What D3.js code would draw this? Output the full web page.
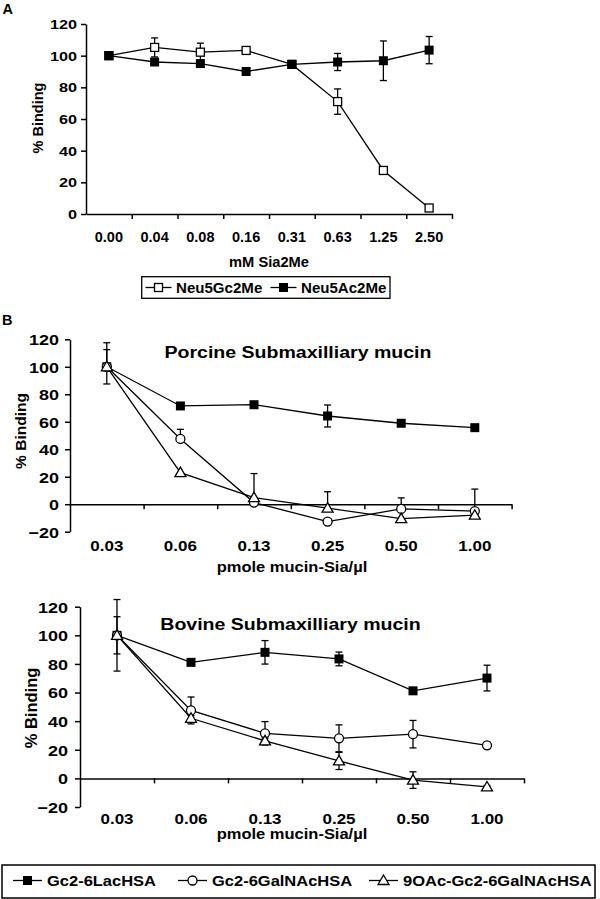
<!DOCTYPE html>
<html><head><meta charset="utf-8">
<script src="https://cdn.jsdelivr.net/npm/d3@7"></script>
<style>
body{margin:0;background:#fff;}
text{font-family:"Liberation Sans",Arial,sans-serif;font-weight:bold;fill:#000;}
</style></head>
<body><svg id="c" width="600" height="899"></svg>
<script>
// ---------- Data ----------
const catsA = ["0.00","0.04","0.08","0.16","0.31","0.63","1.25","2.50"];
const yTicksA = [0,20,40,60,80,100,120];
const neu5Gc = [100,105.2,102.2,103.3,94.5,71,27.5,3.8];
const neu5GcErr = [0,6,5.7,0,0,8,0,2];
const neu5Ac = [100,96,95,90,94.5,96,96.8,103.5];
const neu5AcErr = [0,1.5,2,0,0,5.4,12.5,8.6];

const catsB = ["0.03","0.06","0.13","0.25","0.50","1.00"];
const yTicksB = [-20,0,20,40,60,80,100,120];
// Porcine
const pLac = [100,71.5,72.4,64.2,58.9,55.7];
const pLacUp = [12.5,0,0,8,0,0];
const pLacDn = [12.5,0,0,8,0,0];
const pGal = [100,47.5,1.2,-12.6,-3.4,-5];
const pGalUp = [17.5,7,0,0,8,16];
const pGalDn = [0,0,0,0,0,0];
const pOac = [100,23,4.8,-2.9,-10.5,-8];
const pOacUp = [0,0,17.5,12,0,0];
const pOacDn = [0,0,0,0,0,0];
// Bovine
const bLac = [100,81.1,88.1,83.5,61.2,70.1];
const bLacUp = [13,0,8.2,4.8,0,9];
const bLacDn = [13,0,8.2,4.8,0,9];
const bGal = [100,47.5,31.5,28,30.9,23.1];
const bGalUp = [25,9.4,8.2,9.4,9.6,2];
const bGalDn = [25,9.4,8.2,9.4,9.6,2];
const bOac = [100,42,26.2,12.2,-1.2,-6];
const bOacUp = [0,2,2,6,5.8,1];
const bOacDn = [0,2,2,6,5.8,1];

const legendA = ["Neu5Gc2Me","Neu5Ac2Me"];
const legendB = ["Gc2-6LacHSA","Gc2-6GalNAcHSA","9OAc-Gc2-6GalNAcHSA"];

// ---------- Helpers ----------
const svg = d3.select("#c");
svg.append("rect").attr("width",600).attr("height",899).attr("fill","#fff");

function label(g,x,y,s,size,sx,anchor="middle",rot=0){
  return g.append("text")
    .attr("transform",`translate(${x},${y}) rotate(${rot}) scale(${sx},1)`)
    .attr("text-anchor",anchor).style("font-size",size+"px").text(s);
}

function marker(g,type,x,y){
  if(type==="sqFill"){
    g.append("rect").attr("x",x-4.5).attr("y",y-4.5).attr("width",9).attr("height",9).attr("fill","#000");
  } else if(type==="sqOpen"){
    g.append("rect").attr("x",x-4).attr("y",y-4).attr("width",8).attr("height",8).attr("fill","#fff").attr("stroke","#000").attr("stroke-width",1.3);
  } else if(type==="circ"){
    g.append("circle").attr("cx",x).attr("cy",y).attr("r",4.5).attr("fill","#fff").attr("stroke","#000").attr("stroke-width",1.3);
  } else if(type==="tri"){
    g.append("path").attr("d",`M${x},${y-5.5}L${x+5.5},${y+4}L${x-5.5},${y+4}Z`).attr("fill","#fff").attr("stroke","#000").attr("stroke-width",1.3);
  }
}

function panel(o){
  const g = svg.append("g");
  const x = d3.scaleBand().domain(o.cats).range([o.x0,o.x1]).paddingInner(0).paddingOuter(0);
  const xi = d3.scaleLinear().domain([0,o.cats.length]).range([o.x0,o.x1]);
  const y = d3.scaleLinear().domain(o.yDom).range([o.yBot,o.yTop]);
  const cx = c => x(c)+x.bandwidth()/2;

  // y axis
  const ya = g.append("g").attr("transform",`translate(${o.x0},0)`)
    .call(d3.axisLeft(y).tickValues(o.yTicks).tickSize(5).tickSizeOuter(0).tickFormat(d3.format("d")));
  ya.selectAll("path,line").attr("stroke","#000").attr("stroke-width",1.5);
  ya.selectAll("text").attr("x",null).attr("dy","0.36em")
    .attr("transform",`translate(${-o.yPad},0) scale(${o.ySx},1)`)
    .attr("text-anchor","end").attr("font-family",null).attr("font-size",null)
    .style("font-size",o.yFs+"px");
  // x axis line + boundary ticks
  const xa = g.append("g").attr("transform",`translate(0,${y(o.xAt)})`)
    .call(d3.axisBottom(xi).tickValues(d3.range(1,o.cats.length+1)).tickSize(5).tickSizeOuter(0).tickFormat(""));
  xa.selectAll("path,line").attr("stroke","#000").attr("stroke-width",1.5);
  // x labels
  const xl = g.append("g").attr("transform",`translate(0,${o.xlY})`)
    .call(d3.axisBottom(x).tickSize(0).tickPadding(0));
  xl.select("path").remove();
  xl.selectAll("text").attr("y",0).attr("dy",0)
    .attr("transform",`scale(${o.xSx},1)`).attr("font-family",null).attr("font-size",null)
    .style("font-size",o.xFs+"px");

  // series
  const line = d3.line().x((d,i)=>cx(o.cats[i])).y(d=>y(d));
  o.series.forEach(s=>{
    g.append("path").attr("d",line(s.v)).attr("fill","none").attr("stroke","#000").attr("stroke-width",1.3);
  });
  o.series.forEach(s=>{
    s.v.forEach((v,i)=>{
      const up=s.up[i], dn=s.dn[i];
      const px=cx(o.cats[i]);
      if(up>0){
        g.append("line").attr("x1",px).attr("x2",px).attr("y1",y(v)).attr("y2",y(v+up)).attr("stroke","#000").attr("stroke-width",1.3);
        g.append("line").attr("x1",px-3.5).attr("x2",px+3.5).attr("y1",y(v+up)).attr("y2",y(v+up)).attr("stroke","#000").attr("stroke-width",1.3);
      }
      if(dn>0){
        g.append("line").attr("x1",px).attr("x2",px).attr("y1",y(v)).attr("y2",y(v-dn)).attr("stroke","#000").attr("stroke-width",1.3);
        g.append("line").attr("x1",px-3.5).attr("x2",px+3.5).attr("y1",y(v-dn)).attr("y2",y(v-dn)).attr("stroke","#000").attr("stroke-width",1.3);
      }
    });
  });
  o.series.forEach(s=>{
    s.v.forEach((v,i)=>marker(g,s.m,cx(o.cats[i]),y(v)));
  });
  return g;
}

// ---------- Panel A ----------
const gA = panel({cats:catsA,x0:86,x1:452,yDom:[0,120],yBot:214,yTop:24,yTicks:yTicksA,xAt:0,
  yPad:9,ySx:1.3,yFs:12.5,xlY:242,xSx:1.0,xFs:14.5,
  series:[{v:neu5Gc,up:neu5GcErr,dn:neu5GcErr,m:"sqOpen"},{v:neu5Ac,up:neu5AcErr,dn:neu5AcErr,m:"sqFill"}]});
label(svg,2.5,13.5,"A",14.5,1,"start");
label(svg,38,118,"% Binding",14.5,1,"middle",-90).attr("dy","0.35em");
label(svg,269,267,"mM Sia2Me",14,1.05);
// legend A
svg.append("rect").attr("x",141.7).attr("y",276.7).attr("width",248.3).attr("height",21.6).attr("fill","none").attr("stroke","#000").attr("stroke-width",1.3);
[[145.5,legendA[0],"sqOpen"],[270.5,legendA[1],"sqFill"]].forEach(([lx,t,m])=>{
  svg.append("line").attr("x1",lx).attr("x2",lx+26).attr("y1",287.5).attr("y2",287.5).attr("stroke","#000").attr("stroke-width",1.3);
  marker(svg,m,lx+13,287.5);
  label(svg,lx+30.5,293,t,14.5,1.04,"start");
});

// ---------- Panel B top ----------
const series = (a,b,c,d,e,f,g2,h,k)=>[{v:a,up:b,dn:c,m:"sqFill"},{v:d,up:e,dn:f,m:"circ"},{v:g2,up:h,dn:k,m:"tri"}];
panel({cats:catsB,x0:70,x1:511.6,yDom:[-20,120],yBot:531.7,yTop:339.3,yTicks:yTicksB,xAt:0,
  yPad:11,ySx:1.2,yFs:15,xlY:550.5,xSx:1.12,xFs:15.2,
  series:series(pLac,pLacUp,pLacDn,pGal,pGalUp,pGalDn,pOac,pOacUp,pOacDn)});
label(svg,2,325,"B",14.5,1,"start");
label(svg,21,431,"% Binding",15.5,1,"middle",-90).attr("dy","0.35em");
label(svg,298,358,"Porcine Submaxilliary mucin",17,1.15);
label(svg,292,572,"pmole mucin-Sia/µl",15,1.1);

// ---------- Panel B bottom ----------
panel({cats:catsB,x0:80,x1:524,yDom:[-20,120],yBot:807,yTop:606.7,yTicks:yTicksB,xAt:0,
  yPad:12,ySx:1.2,yFs:15,xlY:824,xSx:1.12,xFs:15.2,
  series:series(bLac,bLacUp,bLacDn,bGal,bGalUp,bGalDn,bOac,bOacUp,bOacDn)});
label(svg,31,708,"% Binding",16.5,1,"middle",-90).attr("dy","0.35em");
label(svg,290.5,630,"Bovine Submaxilliary mucin",17,1.15);
label(svg,292,839,"pmole mucin-Sia/µl",15,1.1);

// legend B
svg.append("rect").attr("x",2).attr("y",865).attr("width",593).attr("height",33).attr("fill","none").attr("stroke","#000").attr("stroke-width",1.5);
[[13,legendB[0],"sqFill"],[178,legendB[1],"circ"],[369,legendB[2],"tri"]].forEach(([lx,t,m])=>{
  svg.append("line").attr("x1",lx).attr("x2",lx+29).attr("y1",880.5).attr("y2",880.5).attr("stroke","#000").attr("stroke-width",1.3);
  marker(svg,m,lx+14.5,880.5);
  label(svg,lx+34,886,t,15,1.1,"start");
});
</script></body></html>
